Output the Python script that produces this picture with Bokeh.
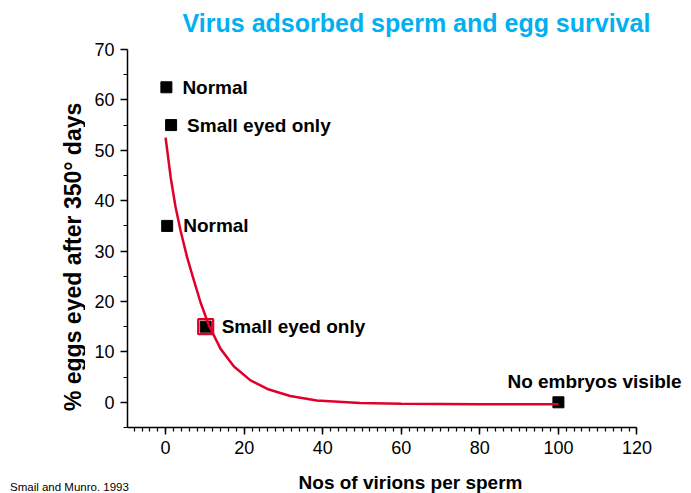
import math
from bokeh.plotting import figure
from bokeh.layouts import column, row
from bokeh.models import Range1d, FixedTicker, Label, ColumnDataSource
from bokeh.core.properties import value
from bokeh.embed import file_html
from bokeh.resources import INLINE

# ---- data ----
point_x = [0.2, 1.4, 0.4, 10.2, 100]
point_y = [62.5, 55, 35, 15, 0]
point_labels = ["Normal", "Small eyed only", "Normal", "Small eyed only", "No embryos visible"]

highlight_x = [10.2]
highlight_y = [15]

curve_x = [0.0, 1.3, 2.5, 3.8, 5.5, 7.2, 8.9, 11.0, 14.0, 17.4, 21.6, 25.9, 31.7, 38.5, 49.5, 60, 80, 100]
curve_y = [52.5, 44.6, 38.9, 34.1, 28.7, 24.2, 19.8, 15.3, 10.6, 7.1, 4.35, 2.65, 1.25, 0.35, -0.15, -0.3, -0.38, -0.4]

x_major = [0, 20, 40, 60, 80, 100, 120]
x_minor = list(range(-8, 121, 2))
y_major = [0, 10, 20, 30, 40, 50, 60, 70]
y_minor = [-5, 5, 15, 25, 35, 45, 55, 65]

title_text = "Virus adsorbed sperm and egg survival"
x_label_text = "Nos of virions per sperm"
y_label_text = "% eggs eyed after 350\u00b0 days"
source_text = "Smail and Munro. 1993"

FONT = "Liberation Sans"
RED = "#e0002a"
BLUE = "#00b0f0"

# ---- main plot (page x 85..691, y 0..468; frame x 127..691, y 0..427) ----
p = figure(width=606, height=468, output_backend="svg", toolbar_location=None,
           x_range=Range1d(-9.7, 133.88), y_range=Range1d(-5, 79.72),
           min_border_left=42, min_border_right=0, min_border_top=0, min_border_bottom=41)
p.outline_line_color = None
p.xgrid.grid_line_color = None
p.ygrid.grid_line_color = None
p.background_fill_color = "white"
p.border_fill_color = "white"

p.xaxis[0].bounds = (-9.7, 120)
p.yaxis[0].bounds = (-5, 70)
for ax, maj, mnr in ((p.xaxis[0], x_major, x_minor), (p.yaxis[0], y_major, y_minor)):
    ax.ticker = FixedTicker(ticks=maj, minor_ticks=mnr)
    ax.axis_line_color = "black"
    ax.axis_line_width = 1.5
    ax.major_tick_line_color = "black"
    ax.major_tick_line_width = 1.5
    ax.minor_tick_line_color = "black"
    ax.minor_tick_line_width = 1.2
    ax.major_tick_in = 0
    ax.major_tick_out = 7
    ax.minor_tick_in = 0
    ax.minor_tick_out = 4
    ax.major_label_text_font = FONT
    ax.major_label_text_font_size = "18px"
    ax.major_label_text_color = "black"
    ax.major_label_standoff = 6

p.scatter(point_x, point_y, marker="square", size=11,
          fill_color="black", line_color="black")
p.line(curve_x, curve_y, line_color=RED, line_width=2.5)
p.scatter(highlight_x, highlight_y, marker="square", size=15,
          fill_color=None, line_color=RED, line_width=2.2)

right_src = ColumnDataSource(dict(x=point_x[:4], y=point_y[:4], label=point_labels[:4]))
top_src = ColumnDataSource(dict(x=point_x[4:], y=point_y[4:], label=point_labels[4:]))
common = dict(text_font=value(FONT), text_font_size="19px", text_font_style="bold",
              text_baseline="middle", text_align="left", text_color="black")
p.text(x="x", y="y", text="label", source=right_src, x_offset=16, y_offset=0, **common)
p.text(x="x", y="y", text="label", source=top_src, x_offset=-51, y_offset=-21, **common)

p.add_layout(Label(x=4.33, y=75.3, text=title_text,
                   text_font=FONT, text_font_size="25px", text_font_style="bold",
                   text_color=BLUE, text_align="left", text_baseline="middle"))

# ---- y-axis title strip (page x 0..85, y 0..468), coordinates = page pixels ----
pl = figure(width=85, height=468, output_backend="svg", toolbar_location=None,
            x_range=Range1d(0, 85), y_range=Range1d(468, 0),
            x_axis_location=None, y_axis_location=None, min_border=0)
pl.outline_line_color = None
pl.grid.visible = False
pl.text(x=[72.5], y=[281], text=[y_label_text], angle=math.pi / 2,
        text_font=value(FONT), text_font_size="23px", text_font_style="bold",
        text_color="black", text_align="center", text_baseline="middle")

# ---- bottom strip (page x 0..691, y 468..493) ----
pb = figure(width=691, height=25, output_backend="svg", toolbar_location=None,
            x_range=Range1d(0, 691), y_range=Range1d(493, 468),
            x_axis_location=None, y_axis_location=None, min_border=0)
pb.outline_line_color = None
pb.grid.visible = False
pb.text(x=[410], y=[481.5], text=[x_label_text],
        text_font=value(FONT), text_font_size="19px", text_font_style="bold",
        text_color="black", text_align="center", text_baseline="middle")
pb.text(x=[9.5], y=[486], text=[source_text],
        text_font=value(FONT), text_font_size="11.5px",
        text_color="black", text_align="left", text_baseline="middle")

layout = column(row(pl, p, spacing=0), pb, spacing=0)
open("out.html", "w").write(file_html(layout, INLINE))
